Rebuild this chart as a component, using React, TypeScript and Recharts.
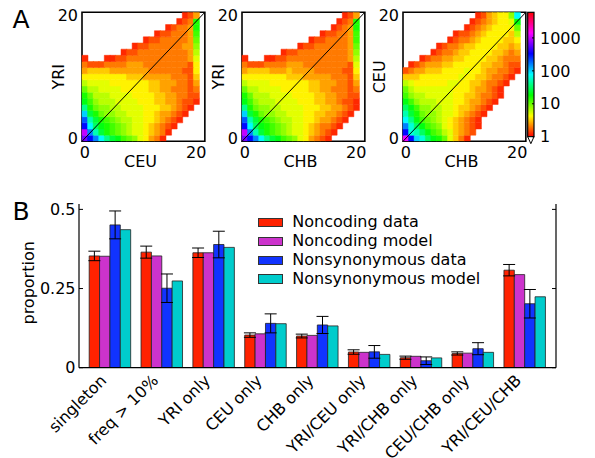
import React from 'react';
import {
  ComposedChart,
  Bar,
  Cell,
  XAxis,
  YAxis,
  ReferenceLine,
  ReferenceArea,
  ErrorBar,
  Legend,
} from 'recharts';

const FF = "'DejaVu Sans', 'Liberation Sans', sans-serif";

// ---------- Panel A data ----------
// Each character is a log-count level: count = 10^(level/10); '.' = below 1 (blank)
const LEVEL_CODES = '0123456789abcdefghijklmnopqrstuvwxyz';
const COLORBAR_MIN = 1;
const COLORBAR_MAX = 6000;
const COLORBAR_TICKS = [1, 10, 100, 1000];
const HEAT_COLUMNS = [0, 1, 2, 3, 4, 5, 6, 7, 8, 9, 10, 11, 12, 13, 14, 15, 16, 17, 18, 19, 20];
const HEAT_TICK_VALUES = [0.5, 20.5];

// rows listed from top (20) to bottom (0); columns 0..20 left to right
const YRI_CEU_ROWS = [
  '..................124',
  '.................123c',
  '...............12334c',
  '.............1223334b',
  '...........122333334a',
  '.........122333333449',
  '.......12233333333348',
  '1...11223333333333347',
  '322233334443333333326',
  '455554444444333333226',
  '666666665554444433325',
  '877776666666554443324',
  'a88777766666554433323',
  'ca8887777666655443322',
  'db9888777766655443221',
  'gca99887777666554321.',
  'keca998877766544321..',
  'nhecba988776654321...',
  'pjfdcba9877654321....',
  'umhecba987765431.....',
  'spmjgedba976431......',
];

const YRI_CHB_ROWS = [
  '..................124',
  '.................123c',
  '................1234c',
  '..............122334b',
  '............12233334b',
  '..........1223333334a',
  '.......12233333333349',
  '1...11223333333333348',
  '322233334443333333327',
  '455554445444433333226',
  '666666665554444433325',
  '877776666666554443324',
  'a88777766666554433323',
  'ca8887777666655443322',
  'db9888777766655443221',
  'gca998877776665544321',
  'keca9988777665544321.',
  'nhecba9887766544321..',
  'pjfdcba98776543321...',
  'umhecba9877654321....',
  'spmjgedba9764321.....',
];

const CEU_CHB_ROWS = [
  '.............1245669j',
  '............12345667d',
  '...........123456666a',
  '.........122345666658',
  '........1233456666556',
  '......123345566665545',
  '.....1233455666655434',
  '...123344556666554333',
  '.12344455666665544322',
  '234455566667665443321',
  '55566666667665543321.',
  '8766666677665543321..',
  'a87777777666544321...',
  'b98877777665543321...',
  'db988877766544321....',
  'fdb9988776554321.....',
  'heca99877654321......',
  'jgdba987654321.......',
  'mifdba97654321.......',
  'pihfdba875432........',
  'vpkifdca7531.........',
];

// ---------- Panel B data ----------
const CATEGORIES = [
  'singleton',
  'freq > 10%',
  'YRI only',
  'CEU only',
  'CHB only',
  'YRI/CEU only',
  'YRI/CHB only',
  'CEU/CHB only',
  'YRI/CEU/CHB',
];
const NONCODING_DATA = [0.353, 0.365, 0.363, 0.103, 0.1, 0.0495, 0.0316, 0.045, 0.308];
const NONCODING_ERR = [0.015, 0.019, 0.015, 0.007, 0.006, 0.007, 0.005, 0.005, 0.018];
const NONCODING_MODEL = [0.352, 0.353, 0.363, 0.107, 0.102, 0.0485, 0.036, 0.046, 0.294];
const NONSYN_DATA = [0.451, 0.251, 0.389, 0.14, 0.135, 0.05, 0.022, 0.06, 0.202];
const NONSYN_ERR = [0.044, 0.045, 0.042, 0.03, 0.027, 0.02, 0.012, 0.019, 0.045];
const NONSYN_MODEL = [0.436, 0.274, 0.38, 0.139, 0.132, 0.042, 0.031, 0.0485, 0.224];
const SERIES_NAMES = ['Noncoding data', 'Noncoding model', 'Nonsynonymous data', 'Nonsynonymous model'];
const SERIES_COLORS = ['#ff2200', '#cc33cc', '#1133ff', '#00cccc'];
const Y_TICKS = [0, 0.25, 0.5];
const Y_MAX = 0.517;

// ---------- helpers ----------
function levelToCount(ch: string) {
  return Math.pow(10, LEVEL_CODES.indexOf(ch) / 10);
}
function countColor(c: number) {
  const f = Math.max(0, Math.min(1, Math.log10(c) / Math.log10(COLORBAR_MAX)));
  return `hsl(${(f * 360).toFixed(1)}, 100%, 50%)`;
}

const tickStyle = { fontSize: 16, fill: '#000', fontFamily: FF };
const frameLine = { stroke: '#000', strokeWidth: 1.2 };

const xTitle = (text: string, dy: number) => (props: any) => {
  const vb = props.viewBox;
  return (
    <text x={vb.x + vb.width / 2} y={vb.y + dy} textAnchor="middle" fontSize={16} fontFamily={FF} fill="#000">
      {text}
    </text>
  );
};
const yTitle = (text: string, dx: number, dyc = 0) => (props: any) => {
  const vb = props.viewBox;
  const x = vb.x + vb.width - dx;
  const y = vb.y + vb.height / 2 + dyc;
  return (
    <text x={x} y={y} transform={`rotate(-90 ${x} ${y})`} textAnchor="middle" fontSize={16} fontFamily={FF} fill="#000">
      {text}
    </text>
  );
};

function HeatPanel({ rows, xLabel, yLabel, left }: any) {
  const bottomUp = [...rows].reverse();
  const rowKeys = bottomUp.map((_: string, j: number) => `r${j}`);
  const data = HEAT_COLUMNS.map((c) => {
    const o: any = { col: c };
    rowKeys.forEach((k: string) => (o[k] = 1));
    return o;
  });
  return (
    <div style={{ position: 'absolute', left, top: 0 }}>
      <ComposedChart
        width={176}
        height={175}
        data={data}
        margin={{ top: 12.3, right: 17, bottom: 3.7, left: 2 }}
        barCategoryGap={0}
        barGap={0}
      >
        <XAxis
          dataKey="col"
          interval={19}
          tickLine={false}
          axisLine={false}
          tickSize={0}
          tickMargin={5}
          height={30}
          tick={tickStyle}
          label={{ content: xTitle(xLabel, 25.4) }}
        />
        <XAxis xAxisId="n" type="number" domain={[0, 21]} hide allowDataOverflow />
        <YAxis
          type="number"
          domain={[0, 21]}
          ticks={HEAT_TICK_VALUES}
          tickFormatter={(v: number) => String(v - 0.5)}
          width={40}
          tickLine={false}
          axisLine={false}
          tickSize={0}
          tickMargin={4}
          tick={tickStyle}
          allowDataOverflow
          label={{ content: yTitle(yLabel, 18.3) }}
        />
        {rowKeys.map((k: string, j: number) => (
          <Bar key={k} dataKey={k} stackId="s" isAnimationActive={false}>
            {HEAT_COLUMNS.map((c) => {
              const ch = bottomUp[j][c];
              if (ch === '.') return <Cell key={c} fill="#ffffff" fillOpacity={0} />;
              const col = countColor(levelToCount(ch));
              return <Cell key={c} fill={col} stroke={col} strokeWidth={0.5} />;
            })}
          </Bar>
        ))}
        <ReferenceLine
          xAxisId="n"
          segment={[
            { x: 0, y: 0 },
            { x: 21, y: 21 },
          ]}
          stroke="#000"
          strokeWidth={1}
          ifOverflow="visible"
        />
        <ReferenceArea
          xAxisId="n"
          x1={0}
          x2={21}
          y1={0}
          y2={21}
          fill="none"
          fillOpacity={0}
          stroke="#000"
          strokeWidth={1.6}
          ifOverflow="visible"
        />
      </ComposedChart>
    </div>
  );
}

function ColorBarShape(props: any) {
  const { x, y, width, height } = props;
  const stops = [0, 1, 2, 3, 4, 5, 6, 7, 8, 9, 10, 11, 12].map((k) => k / 12);
  return (
    <g>
      <defs>
        <linearGradient id="cbgrad" x1="0" y1="1" x2="0" y2="0">
          {stops.map((s) => (
            <stop key={s} offset={s} stopColor={`hsl(${s * 360}, 100%, 50%)`} />
          ))}
        </linearGradient>
      </defs>
      <rect x={x} y={y} width={width} height={height} fill="url(#cbgrad)" stroke="#000" strokeWidth={1.2} />
      <path
        d={`M${x},${y + height} L${x + width},${y + height} L${x + width / 2},${y + height + 7} Z`}
        fill="#fff"
        stroke="#000"
        strokeWidth={1}
      />
    </g>
  );
}

function ColorBar() {
  return (
    <div style={{ position: 'absolute', left: 520, top: 0 }}>
      <ComposedChart width={72} height={150} data={[{ x: 0 }]} margin={{ top: 12.3, right: 0, bottom: 13.3, left: 7.7 }}>
        <XAxis type="number" dataKey="x" domain={[0, 1]} hide allowDataOverflow />
        <YAxis
          orientation="right"
          type="number"
          scale="log"
          domain={[COLORBAR_MIN, COLORBAR_MAX]}
          ticks={COLORBAR_TICKS}
          allowDataOverflow
          width={58}
          axisLine={false}
          tickSize={-2}
          tickMargin={8}
          tickLine={{ stroke: '#000', strokeWidth: 1 }}
          tick={tickStyle}
        />
        <ReferenceArea
          x1={0}
          x2={1}
          y1={COLORBAR_MIN}
          y2={COLORBAR_MAX}
          shape={<ColorBarShape />}
          ifOverflow="visible"
        />
      </ComposedChart>
    </div>
  );
}

const RotTick = (props: any) => {
  const { x, y, payload } = props;
  const px = x - 2.7;
  const py = y + 13.8;
  return (
    <text
      x={px}
      y={py}
      transform={`rotate(-45 ${px} ${py})`}
      textAnchor="end"
      fontSize={16}
      fontFamily={FF}
      fill="#000"
    >
      {payload.value}
    </text>
  );
};

const LegendContent = () => (
  <div style={{ fontFamily: FF, fontSize: 16, color: '#000', lineHeight: '18.9px' }}>
    {SERIES_NAMES.map((n, i) => (
      <div key={n} style={{ display: 'flex', alignItems: 'center', height: 18.9, whiteSpace: 'nowrap' }}>
        <span
          style={{
            display: 'inline-block',
            width: 24.4,
            height: 9.3,
            background: SERIES_COLORS[i],
            border: '0.8px solid #333',
            boxSizing: 'border-box',
            marginRight: 9.6,
          }}
        />
        <span>{n}</span>
      </div>
    ))}
  </div>
);

function BarPanel() {
  const data = CATEGORIES.map((c, i) => ({
    cat: c,
    ncData: NONCODING_DATA[i],
    ncErr: NONCODING_ERR[i],
    ncModel: NONCODING_MODEL[i],
    nsData: NONSYN_DATA[i],
    nsErr: NONSYN_ERR[i],
    nsModel: NONSYN_MODEL[i],
  }));
  const keys = ['ncData', 'ncModel', 'nsData', 'nsModel'];
  const errKeys: any = { ncData: 'ncErr', nsData: 'nsErr' };
  return (
    <div style={{ position: 'absolute', left: 0, top: 190 }}>
      <ComposedChart
        width={595}
        height={268}
        data={data}
        margin={{ top: 14, right: 38, bottom: 4.3, left: 34 }}
        barGap={0}
        barSize={10.37}
      >
        <XAxis
          dataKey="cat"
          padding={{ left: 5.2, right: 5.2 }}
          axisLine={frameLine}
          tickLine={false}
          tickSize={0}
          tickMargin={0}
          height={86}
          interval={0}
          tick={<RotTick />}
        />
        <XAxis
          xAxisId="top"
          dataKey="cat"
          orientation="top"
          height={0}
          tick={false}
          tickLine={false}
          axisLine={frameLine}
        />
        <YAxis
          type="number"
          domain={[0, Y_MAX]}
          ticks={Y_TICKS}
          width={45}
          tickSize={-4}
          tickMargin={7.5}
          axisLine={frameLine}
          tickLine={{ stroke: '#000', strokeWidth: 1 }}
          tick={tickStyle}
          allowDataOverflow
          label={{ content: yTitle('proportion', 45, -3) }}
        />
        <YAxis
          yAxisId="r"
          orientation="right"
          type="number"
          domain={[0, Y_MAX]}
          ticks={Y_TICKS}
          width={1}
          tickSize={-4}
          tickFormatter={() => ''}
          axisLine={frameLine}
          tickLine={{ stroke: '#000', strokeWidth: 1 }}
          allowDataOverflow
        />
        {keys.map((k, i) => (
          <Bar
            key={k}
            dataKey={k}
            name={SERIES_NAMES[i]}
            fill={SERIES_COLORS[i]}
            stroke="#222"
            strokeWidth={0.8}
            isAnimationActive={false}
          >
            {errKeys[k] ? (
              <ErrorBar dataKey={errKeys[k]} width={6} stroke="#000" strokeWidth={1} direction="y" />
            ) : null}
          </Bar>
        ))}
        <Legend
          layout="vertical"
          align="center"
          verticalAlign="middle"
          wrapperStyle={{ left: 258.3, top: 23, width: 240 }}
          content={<LegendContent />}
        />
      </ComposedChart>
    </div>
  );
}

export default function App() {
  return (
    <div
      style={{
        position: 'absolute',
        left: 0,
        top: 0,
        width: 595,
        height: 458,
        background: '#fff',
        fontFamily: FF,
        overflow: 'hidden',
      }}
    >
      <div style={{ position: 'absolute', left: 12.5, top: 6.9, fontSize: 25, lineHeight: '25px', fontFamily: FF }}>A</div>
      <div style={{ position: 'absolute', left: 12.5, top: 199.3, fontSize: 25, lineHeight: '25px', fontFamily: FF }}>B</div>
      <HeatPanel rows={YRI_CEU_ROWS} xLabel="CEU" yLabel="YRI" left={40.3} />
      <HeatPanel rows={YRI_CHB_ROWS} xLabel="CHB" yLabel="YRI" left={200.3} />
      <HeatPanel rows={CEU_CHB_ROWS} xLabel="CHB" yLabel="CEU" left={361.3} />
      <ColorBar />
      <BarPanel />
    </div>
  );
}
